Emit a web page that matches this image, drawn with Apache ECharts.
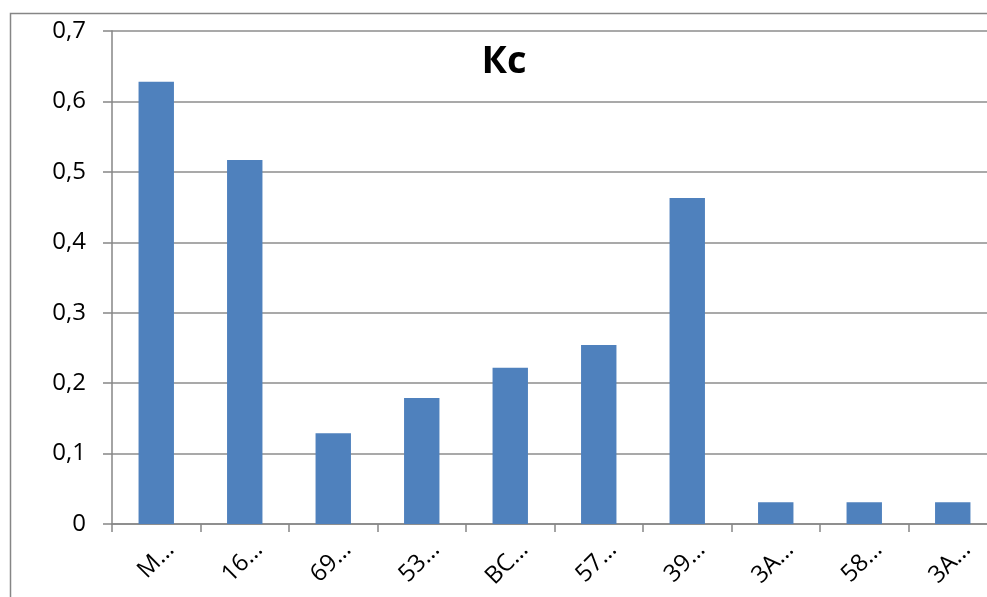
<!DOCTYPE html>
<html><head><meta charset="utf-8">
<script src="https://cdn.jsdelivr.net/npm/echarts@6/dist/echarts.min.js"></script>
<style>html,body{margin:0;padding:0;background:#fff}#c{width:987px;height:597px}</style>
</head><body><div id="c"></div>
<script>
const categories = ["М…", "16…", "69…", "53…", "ВС…", "57…", "39…", "3А…", "58…", "3А…"];
const values = [0.628, 0.517, 0.129, 0.179, 0.222, 0.254, 0.463, 0.031, 0.031, 0.031];
const chartTitle = "Кс";

const chart = echarts.init(document.getElementById('c'), null, {renderer: 'canvas'});
chart.setOption({
  animation: false,
  backgroundColor: '#fff',
  graphic: [{
    type: 'rect', left: 8, top: 11, z: -1,
    shape: {width: 1000, height: 600},
    style: {fill: 'none', stroke: '#868686', lineWidth: 1.5}
  }],
  title: {
    text: chartTitle, left: 499, top: 38, textAlign: 'center',
    textStyle: {fontFamily: 'Open Sans', fontWeight: 'bold', fontSize: 38, color: '#000'}
  },
  grid: {left: 112, top: 31, right: -10, bottom: 73, containLabel: false, outerBoundsMode: 'none'},
  xAxis: {
    type: 'category', data: categories,
    axisLine: {lineStyle: {color: '#868686', width: 1.5}},
    axisTick: {show: true, length: 8, lineStyle: {color: '#868686', width: 1.5}},
    axisLabel: {rotate: 45, interval: 0, fontFamily: 'Open Sans', fontSize: 24, color: '#000',
      margin: 36, padding: [0, -20, 0, 0]}
  },
  yAxis: {
    type: 'value', min: 0, max: 0.7, interval: 0.1,
    axisLine: {show: true, lineStyle: {color: '#868686', width: 1.5}},
    axisTick: {show: true, length: 9, lineStyle: {color: '#868686', width: 1.5}},
    splitLine: {lineStyle: {color: '#8c8c8c', width: 1.5}},
    axisLabel: {fontFamily: 'Open Sans', fontSize: 24, color: '#000', margin: 26,
      formatter: v => (Math.round(v * 10) / 10).toString().replace('.', ',')}
  },
  series: [{
    type: 'bar', data: values, barWidth: '40%',
    itemStyle: {color: '#4F81BD'}
  }]
});
</script></body></html>
